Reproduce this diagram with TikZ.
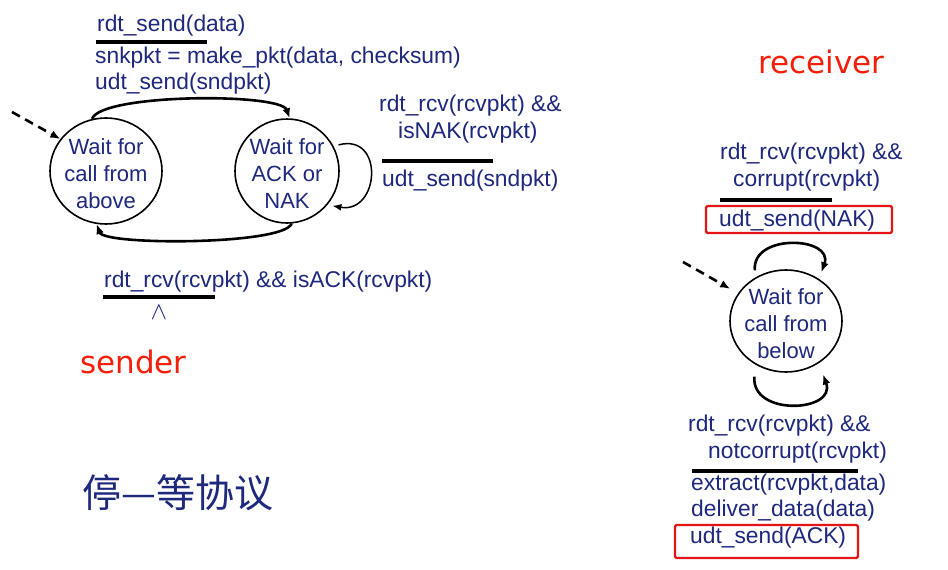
\documentclass[tikz,border=0pt]{standalone}
\usepackage{fontspec}
\setmainfont{Liberation Sans}
\newfontfamily\cjkfont{Noto Sans CJK SC}
\newfontfamily\rolefont{DejaVu Sans}
\usetikzlibrary{shapes.geometric,arrows.meta}
\definecolor{navy}{RGB}{30,40,125}
\definecolor{redlbl}{RGB}{245,30,10}
\definecolor{boxred}{RGB}{230,20,20}
\begin{document}
\begin{tikzpicture}[x=1pt,y=-1pt,
  txt/.style={inner sep=0pt, anchor=base west, text=navy, font=\fontsize{22.8}{27}\selectfont},
  statetext/.style={inner sep=0pt, align=center, text=navy, yshift=-3pt, font=\fontsize{22}{27}\selectfont},
  state/.style={ellipse, draw=black, line width=1.6pt, inner sep=0pt},
  bar/.style={line width=3.2pt, black},
  arc/.style={line width=2.6pt, -{Latex[length=10pt,width=8pt]}},
  loopthin/.style={line width=1.5pt, -{Latex[length=9pt,width=7pt]}},
  initarrow/.style={line width=2.6pt, dash pattern=on 9pt off 6pt, -{Latex[length=10pt,width=8pt]}},
  hl/.style={draw=boxred, line width=2.4pt, rounded corners=1.5pt},
  role/.style={inner sep=0pt, anchor=base west, text=redlbl, font=\rolefont\fontsize{31}{36}\selectfont}]
\fill[white] (0,0) rectangle (948,570);
\useasboundingbox (0,0) rectangle (948,570);

% ---------------- sender ----------------
\node[state, minimum width=112pt, minimum height=106pt,
  label={[statetext]center:Wait for\\call from\\above}] (s1) at (106,171) {};
\node[state, minimum width=104pt, minimum height=104pt,
  label={[statetext]center:Wait for\\ACK or\\NAK}] (s2) at (287,171) {};

\coordinate (sinit) at (12,112);
\draw[initarrow] (sinit) -- (s1.145);

\draw[arc] (s1.105) to[out=70,in=110,looseness=0.35] (s2.87);
\draw[arc] (s2.-85) to[out=-110,in=-70,looseness=0.3] (s1.-100);
\draw[loopthin, shorten <=5pt, shorten >=5pt] (s2.28) to[out=15,in=-10,looseness=2.3] (s2.-40);

\node[txt] (l1) at (97,31) {rdt\_send(data)};
\draw[bar] (96,42) -- (207,42);
\node[txt] (l2) at (95,63) {snkpkt = make\_pkt(data, checksum)};
\node[txt] (l3) at (95,89) {udt\_send(sndpkt)};

\node[txt] (n1) at (379,111) {rdt\_rcv(rcvpkt) \&\&};
\node[txt] (n2) at (398,138) {isNAK(rcvpkt)};
\draw[bar] (382,161) -- (493,161);
\node[txt] (n3) at (382,186) {udt\_send(sndpkt)};

\node[txt] (a1) at (104,287) {rdt\_rcv(rcvpkt) \&\& isACK(rcvpkt)};
\draw[bar] (103,297) -- (215,297);
\node[inner sep=0pt, text=navy, font=\fontsize{28}{28}\selectfont] (lam) at (159,313) {$\wedge$};

\node[role] (sender) at (80,373) {sender};
\node[inner sep=0pt, anchor=west, text=navy, font=\cjkfont\fontsize{39}{42}\selectfont] (title) at (82,493) {停—等协议};

% ---------------- receiver ----------------
\node[role] (receiver) at (758,73) {receiver};

\node[txt] (c1) at (720,159) {rdt\_rcv(rcvpkt) \&\&};
\node[txt] (c2) at (733,186) {corrupt(rcvpkt)};
\draw[bar] (720,200) -- (832,200);
\draw[hl] (706,206) rectangle (892,233);
\node[txt] (c3) at (719,226) {udt\_send(NAK)};

\node[state, minimum width=112pt, minimum height=102pt,
  label={[statetext]center:Wait for\\call from\\below}] (r) at (786,321) {};

\coordinate (rinit) at (683,262);
\draw[initarrow, shorten >=9pt] (rinit) -- (r.150);

\draw[arc, shorten <=7pt, shorten >=7pt] (r.125) to[out=95,in=70,looseness=1.8] (r.52);
\draw[arc, shorten <=12pt, shorten >=12pt] (r.-125) to[out=-95,in=-70,looseness=2.1] (r.-52);

\node[txt] (k1) at (688,431) {rdt\_rcv(rcvpkt) \&\&};
\node[txt] (k2) at (708,458) {notcorrupt(rcvpkt)};
\draw[bar] (692,471) -- (858,471);
\node[txt] (k3) at (691,490) {extract(rcvpkt,data)};
\node[txt] (k4) at (691,516) {deliver\_data(data)};
\draw[hl] (675,525) rectangle (858,558);
\node[txt] (k5) at (690,543) {udt\_send(ACK)};
\end{tikzpicture}
\end{document}
